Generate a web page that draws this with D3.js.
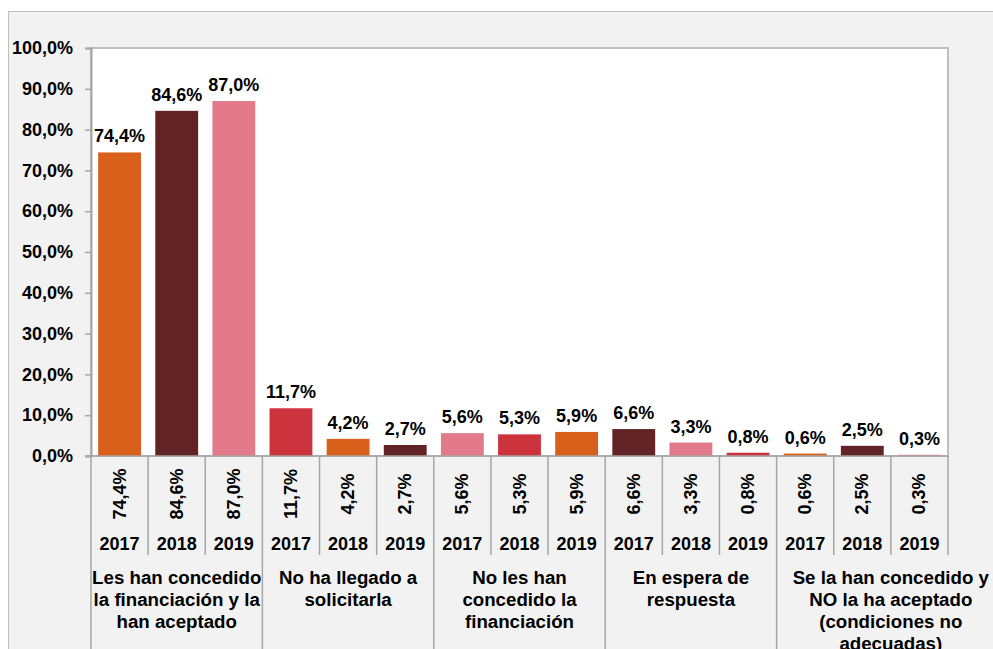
<!DOCTYPE html>
<html>
  <head>
    <meta charset="utf-8">
    <title>Financiación 2017-2019</title>
    <style>
      body { margin: 0; background: #fff; }
      #chart { width: 993px; height: 649px; overflow: hidden; }
      text { font-family: "Liberation Sans", Arial, sans-serif; font-weight: bold; fill: #000; }
    </style>
  </head>
  <body>
    <div id="chart"></div>
    <script src="https://cdn.jsdelivr.net/npm/d3@7"></script>
    <script>
      (function(d3) {
        'use strict';

        // data
        var groups = [
          ['Les han concedido', 'la financiación y la', 'han aceptado'],
          ['No ha llegado a', 'solicitarla'],
          ['No les han', 'concedido la', 'financiación'],
          ['En espera de', 'respuesta'],
          ['Se la han concedido y', 'NO la ha aceptado', '(condiciones no', 'adecuadas)']
        ];
        var years = ['2017', '2018', '2019'];
        var values = [
          [74.4, 84.6, 87.0],
          [11.7, 4.2, 2.7],
          [5.6, 5.3, 5.9],
          [6.6, 3.3, 0.8],
          [0.6, 2.5, 0.3]
        ];
        var yTicks = [0, 10, 20, 30, 40, 50, 60, 70, 80, 90, 100];
        var palette = ['#D9601A', '#632325', '#E27A89', '#CC333D'];   // colours cycle bar by bar

        var width = 993;
        var height = 649;
        var plot = { left: 91, right: 948, top: 48, bottom: 456 };
        var outerRight = 1005;          // the grey frame runs past the window edge
        var fontSize = 18;
        var catFontSize = 18.7;

        // flatten into one row per bar
        var bars = [];
        values.forEach(function(row, g) {
          row.forEach(function(v, k) {
            bars.push({ group: g, year: years[k], value: v, i: bars.length });
          });
        });

        var fmt = function(v) { return d3.format('.1f')(v).replace('.', ',') + '%'; };

        var svg = d3.select('#chart')
          .append('svg')
          .attr('width', width)
          .attr('height', height);

        // grey outer frame
        svg.append('rect')
          .attr('x', 8.5).attr('y', 11.5)
          .attr('width', outerRight).attr('height', height)
          .attr('fill', '#F2F2F2')
          .attr('stroke', '#BFBFBF');

        var x = d3.scaleBand()
          .domain(bars.map(function(d) { return d.i; }))
          .range([plot.left, plot.right])
          .paddingInner(0.25)
          .paddingOuter(0.125);
        var step = (plot.right - plot.left) / bars.length;

        var y = d3.scaleLinear()
          .domain([0, 100])
          .range([plot.bottom, plot.top]);

        // white plot area
        svg.append('rect')
          .attr('x', plot.left).attr('y', plot.top)
          .attr('width', plot.right - plot.left).attr('height', plot.bottom - plot.top)
          .attr('fill', '#fff')
          .attr('stroke', '#BFBFBF')
          .attr('stroke-width', 2);

        // y axis
        var yAxis = svg.append('g')
          .attr('transform', 'translate(' + plot.left + ',0)')
          .call(d3.axisLeft(y).tickValues(yTicks).tickSize(6).tickPadding(12).tickFormat(fmt));
        yAxis.select('.domain').attr('stroke', '#A6A6A6').attr('stroke-width', 2);
        yAxis.selectAll('.tick line').attr('stroke', '#A6A6A6').attr('stroke-width', 1.5);
        yAxis.selectAll('.tick text')
          .attr('font-size', fontSize)
          .attr('font-family', '"Liberation Sans", Arial, sans-serif')
          .attr('font-weight', 'bold')
          .attr('fill', '#000');

        // bars
        svg.selectAll('.bar')
          .data(bars)
          .enter()
          .append('rect')
          .attr('class', 'bar')
          .attr('x', function(d) { return x(d.i); })
          .attr('width', x.bandwidth())
          .attr('y', function(d) { return y(d.value); })
          .attr('height', function(d) { return y(0) - y(d.value); })
          .attr('fill', function(d) { return palette[d.i % palette.length]; });

        // labels over bars
        svg.selectAll('.val')
          .data(bars)
          .enter()
          .append('text')
          .attr('class', 'val')
          .attr('x', function(d) { return x(d.i) + x.bandwidth() / 2; })
          .attr('y', function(d) { return y(d.value) - 10; })
          .attr('text-anchor', 'middle')
          .attr('font-size', fontSize)
          .text(function(d) { return fmt(d.value); });

        // x axis line
        svg.append('line')
          .attr('x1', plot.left - 6).attr('x2', plot.right)
          .attr('y1', plot.bottom).attr('y2', plot.bottom)
          .attr('stroke', '#A6A6A6').attr('stroke-width', 1.5);

        // data table lines below the axis
        var lines = d3.range(bars.length + 1);
        svg.selectAll('.cell')
          .data(lines)
          .enter()
          .append('line')
          .attr('class', 'cell')
          .attr('x1', function(i) { return plot.left + i * step; })
          .attr('x2', function(i) { return plot.left + i * step; })
          .attr('y1', plot.bottom)
          .attr('y2', function(i) { return (i % 3 === 0 && i < bars.length) ? height : 555; })
          .attr('stroke', '#A6A6A6')
          .attr('stroke-width', 1.5);

        // rotated values
        svg.selectAll('.rot')
          .data(bars)
          .enter()
          .append('text')
          .attr('class', 'rot')
          .attr('transform', function(d) {
            return 'translate(' + (x(d.i) + x.bandwidth() / 2 + 6) + ',494) rotate(-90)';
          })
          .attr('text-anchor', 'middle')
          .attr('font-size', fontSize)
          .text(function(d) { return fmt(d.value); });

        // year row
        svg.selectAll('.yr')
          .data(bars)
          .enter()
          .append('text')
          .attr('class', 'yr')
          .attr('x', function(d) { return x(d.i) + x.bandwidth() / 2; })
          .attr('y', 550)
          .attr('text-anchor', 'middle')
          .attr('font-size', fontSize)
          .text(function(d) { return d.year; });

        // category labels, the last one runs into the free space on the right
        var cat = svg.selectAll('.cat')
          .data(groups)
          .enter()
          .append('text')
          .attr('class', 'cat')
          .attr('text-anchor', 'middle')
          .attr('font-size', catFontSize)
          .attr('transform', function(d, g) {
            var left = plot.left + g * 3 * step;
            var right = (g === groups.length - 1) ? outerRight : left + 3 * step;
            return 'translate(' + ((left + right) / 2) + ',584)';
          });
        cat.selectAll('tspan')
          .data(function(d) { return d; })
          .enter()
          .append('tspan')
          .attr('x', 0)
          .attr('y', function(d, k) { return k * 22; })
          .text(function(d) { return d; });

      })(window.d3);
    </script>
  </body>
</html>
